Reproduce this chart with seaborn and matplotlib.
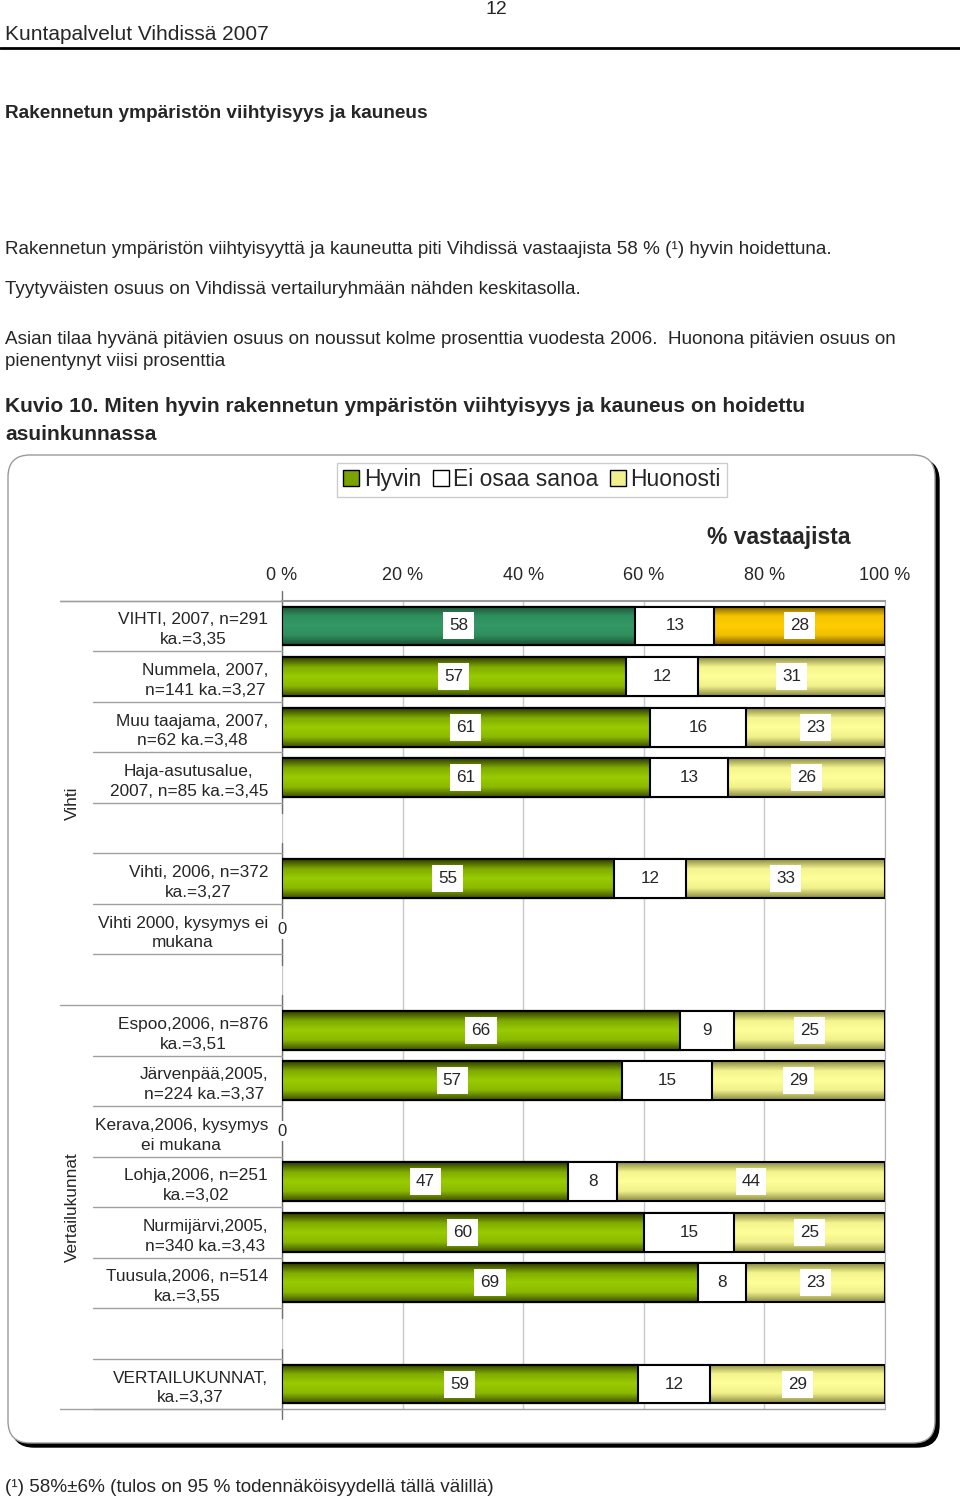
"""Kuvio 10: rakennetun ympäristön viihtyisyys ja kauneus, 100 % pinottu vaakapylväs."""
import matplotlib

matplotlib.use("Agg")
import matplotlib.pyplot as plt
import matplotlib.transforms as mtransforms
import numpy as np
import pandas as pd
import seaborn as sns
from matplotlib.colors import to_rgb
from matplotlib.patches import FancyBboxPatch, Patch

sns.set_style("white")
plt.rcParams["font.family"] = ["Liberation Sans", "DejaVu Sans"]

# --- data ---------------------------------------------------------------
row_labels = [
    "VIHTI, 2007, n=291\nka.=3,35",
    "Nummela, 2007,\nn=141 ka.=3,27",
    "Muu taajama, 2007,\nn=62 ka.=3,48",
    "Haja-asutusalue,\n2007, n=85 ka.=3,45",
    "",
    "Vihti, 2006, n=372\nka.=3,27",
    "Vihti 2000, kysymys ei\nmukana",
    "",
    "Espoo,2006, n=876\nka.=3,51",
    "Järvenpää,2005,\nn=224 ka.=3,37",
    "Kerava,2006, kysymys\nei mukana",
    "Lohja,2006, n=251\nka.=3,02",
    "Nurmijärvi,2005,\nn=340 ka.=3,43",
    "Tuusula,2006, n=514\nka.=3,55",
    "",
    "VERTAILUKUNNAT,\nka.=3,37",
]
hyvin = [58, 57, 61, 61, np.nan, 55, 0, np.nan, 66, 57, 0, 47, 60, 69, np.nan, 59]
ei_osaa = [13, 12, 16, 13, np.nan, 12, 0, np.nan, 9, 15, 0, 8, 15, 8, np.nan, 12]
huonosti = [28, 31, 23, 26, np.nan, 33, 0, np.nan, 25, 29, 0, 44, 25, 23, np.nan, 29]
series_names = ["Hyvin", "Ei osaa sanoa", "Huonosti"]
x_ticks = [0, 20, 40, 60, 80, 100]
x_ticklabels = ["0 %", "20 %", "40 %", "60 %", "80 %", "100 %"]
outer_labels = ["Vihti", "Vertailukunnat"]

# row groups of the two-level category axis (row index ranges)
inner_groups = [(0, 3), (5, 6), (8, 13), (15, 15)]
outer_spans = [(0, 7), (8, 15)]

# --- figure ---------------------------------------------------------------
W, H = 960, 1502
fig = plt.figure(figsize=(W / 100, H / 100), dpi=100)


def fx(px):
    return px / W


def fy(py):
    return 1 - py / H


# page text
fig.text(fx(496), fy(10), "12", ha="center", va="center", fontsize=14)
fig.text(fx(5), fy(35), "Kuntapalvelut Vihdissä 2007", ha="left", va="center", fontsize=15)
fig.add_artist(plt.Line2D([0, 1], [fy(48), fy(48)], color="black", lw=2, transform=fig.transFigure))
fig.text(fx(5), fy(113), "Rakennetun ympäristön viihtyisyys ja kauneus",
         ha="left", va="center", fontsize=13.7, fontweight="bold")
body = [
    (249, "Rakennetun ympäristön viihtyisyyttä ja kauneutta piti Vihdissä vastaajista 58 % (¹) hyvin hoidettuna."),
    (290, "Tyytyväisten osuus on Vihdissä vertailuryhmään nähden keskitasolla."),
    (339, "Asian tilaa hyvänä pitävien osuus on noussut kolme prosenttia vuodesta 2006.  Huonona pitävien osuus on"),
    (362, "pienentynyt viisi prosenttia"),
]
for y, t in body:
    fig.text(fx(5), fy(y), t, ha="left", va="center", fontsize=13.6)
fig.text(fx(5), fy(407), "Kuvio 10. Miten hyvin rakennetun ympäristön viihtyisyys ja kauneus on hoidettu",
         ha="left", va="center", fontsize=15.1, fontweight="bold")
fig.text(fx(5), fy(434), "asuinkunnassa", ha="left", va="center", fontsize=15.1, fontweight="bold")
fig.text(fx(5), fy(1488), "(¹) 58%±6% (tulos on 95 % todennäköisyydellä tällä välillä)",
         ha="left", va="center", fontsize=13.6)

# chart frame with shadow
shadow = FancyBboxPatch((12 / 100, (H - 1447) / 100), 927 / 100, 988 / 100,
                        boxstyle="round,pad=0,rounding_size=0.22", transform=fig.dpi_scale_trans,
                        fc="black", ec="black", zorder=-2)
frame = FancyBboxPatch((8 / 100, (H - 1443) / 100), 927 / 100, 988 / 100,
                       boxstyle="round,pad=0,rounding_size=0.22", transform=fig.dpi_scale_trans,
                       fc="white", ec="#9a9a9a", lw=1, zorder=-1)
fig.add_artist(shadow)
fig.add_artist(frame)

# --- bars -------------------------------------------------------------------
ax = fig.add_axes([fx(282), fy(1409.3), fx(885) - fx(282), fy(600.7) - fy(1409.3)])
ax.set_facecolor("none")

keys = [f"r{i}" for i in range(len(row_labels))]
vals = np.array([hyvin, ei_osaa, huonosti], dtype=float)
tot = vals.sum(axis=0)
share = np.where(tot > 0, vals / np.where(tot > 0, tot, 1) * 100, np.nan)
df = pd.DataFrame({
    "row": keys,
    "c1": share[0],
    "c2": share[0] + share[1],
    "c3": share[0] + share[1] + share[2],
})

GREEN = ["#2e3a00", "#80ab00", "#99cc00", "#8ab800", "#3f5000"]
TEAL = ["#1c5238", "#2f8f5d", "#339966", "#2f8f5d", "#1c5238"]
YELLOW = ["#8c8c45", "#f5f590", "#ffff99", "#f0f08c", "#8c8c45"]
GOLD = ["#7a5c00", "#f5c400", "#ffcc00", "#f0c000", "#7a5c00"]
WHITE = ["#ffffff"] * 5


def vgrad(stops, n=64):
    stops = np.array([to_rgb(c) for c in stops])
    pos = np.linspace(0, 1, len(stops))
    t = np.linspace(0, 1, n)
    col = np.stack([np.interp(t, pos, stops[:, k]) for k in range(3)], axis=1)
    return col[:, None, :]


layers = [("c3", 2, YELLOW, GOLD), ("c2", 3, WHITE, WHITE), ("c1", 4, GREEN, TEAL)]
for col, z, stops, first_stops in layers:
    n0 = len(ax.patches)
    sns.barplot(data=df, x=col, y="row", order=keys, orient="h", color="white",
                width=0.77, errorbar=None, ax=ax)
    for p in ax.patches[n0:]:
        w = p.get_width()
        if not np.isfinite(w) or w <= 0:
            continue
        y0, h = p.get_y(), p.get_height()
        row = int(round(y0 + h / 2))
        g = vgrad(first_stops if row == 0 else stops)
        ax.imshow(g, extent=[0, w, y0 + h, y0], aspect="auto", zorder=z, interpolation="bilinear")
        p.set_facecolor("none")
        p.set_edgecolor("black")
        p.set_linewidth(1.5)
        p.set_zorder(z + 0.5)

# value labels
for i in range(len(row_labels)):
    if np.isnan(tot[i]):
        continue
    if tot[i] == 0:
        ax.text(0, i, "0", ha="center", va="center", fontsize=12, zorder=10,
                bbox=dict(boxstyle="square,pad=0.15", fc="white", ec="none"))
        continue
    left = 0
    for k in range(3):
        w = share[k, i]
        ax.text(left + w / 2, i, f"{int(vals[k, i])}", ha="center", va="center", fontsize=12.3,
                zorder=10, bbox=dict(boxstyle="square,pad=0.35", fc="white", ec="none"))
        left += w

ax.set_xlim(0, 100)
ax.set_ylim(len(keys) - 0.5, -0.5)

# axes styling
ax.xaxis.tick_top()
ax.set_xticks(x_ticks)
ax.set_xticklabels(x_ticklabels)
ax.tick_params(axis="x", length=0, pad=12, labelsize=13)
ax.set_yticks(range(len(keys)))
ax.set_yticklabels(row_labels, ha="right", multialignment="center", fontsize=12.4,
                   linespacing=1.4)
ax.tick_params(axis="y", length=0, pad=10)
ax.set_xlabel("")
ax.set_ylabel("")
ax.grid(axis="x", color="#c8c8c8", lw=1)
ax.set_axisbelow(True)
for s in ["left", "bottom"]:
    ax.spines[s].set_visible(False)
ax.spines["top"].set_color("#9a9a9a")
ax.spines["top"].set_linewidth(1.5)
ax.spines["right"].set_color("#b0b0b0")

# category axis: separators and axis segments
tr = mtransforms.blended_transform_factory(ax.transAxes, ax.transData)
inner_x = (93 - 282) / 603
outer_x = (60 - 282) / 603
for a, b in inner_groups:
    ax.plot([0, 0], [a - 0.7, b + 0.7], color="#707070", lw=1, transform=ax.transData,
            clip_on=False, zorder=1)
    for r in range(a, b + 2):
        start = outer_x if (r == a and a in (0, 8)) else inner_x
        ax.plot([start, 0], [r - 0.5, r - 0.5], color="#a0a0a0", lw=1, transform=tr,
                clip_on=False, zorder=1)
ax.plot([outer_x, 1], [len(keys) - 0.5] * 2, color="#a0a0a0", lw=1, transform=tr, clip_on=False)
ax.plot([outer_x, 0], [-0.5, -0.5], color="#a0a0a0", lw=1, transform=tr, clip_on=False)

for name, (a, b) in zip(outer_labels, outer_spans):
    ax.text((72 - 282) / 603, (a + b) / 2, name, rotation=90, ha="center", va="center",
            fontsize=12.4, transform=tr)

fig.text(fx(779), fy(538), "% vastaajista", ha="center", va="center", fontsize=16.5,
         fontweight="bold")

handles = [
    Patch(fc="#7aa300", ec="black", lw=1),
    Patch(fc="white", ec="black", lw=1),
    Patch(fc="#f0f08c", ec="black", lw=1),
]
fig.legend(handles, series_names, loc="center", bbox_to_anchor=(fx(532), fy(480)), ncol=3,
           frameon=True, fancybox=False, edgecolor="#c0c0c0", fontsize=16.5,
           handlelength=0.7, handleheight=0.7, handletextpad=0.2, columnspacing=0.5,
           borderpad=0.25)

fig.savefig("out.png", dpi=100)
plt.close(fig)
